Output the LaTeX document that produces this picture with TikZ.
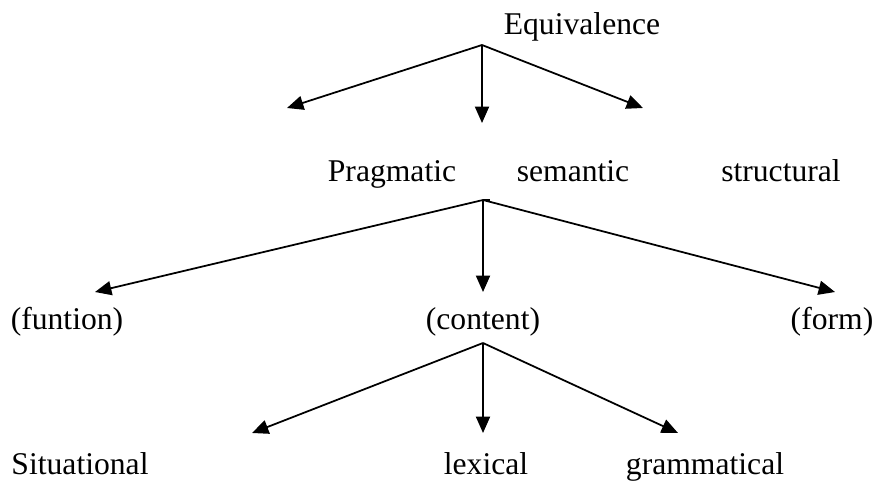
\documentclass[tikz,border=0pt]{standalone}
\usepackage{fontspec}
\setmainfont{Liberation Serif}
\usetikzlibrary{arrows.meta}

\begin{document}
\begin{tikzpicture}[x=0.03cm, y=-0.03cm, >={Triangle[length=14pt,width=12pt]}, line width=1.5pt,
  word/.style={font=\fontsize{27}{32}\selectfont, inner sep=0pt, anchor=base}]
	  \useasboundingbox (0,0) rectangle (876,483);
	  % labels
	  \node[word] (equiv) at (582,35) {Equivalence};
	  \node[word] (prag) at (392,182) {Pragmatic};
	  \node[word] (sem) at (573,182) {semantic};
	  \node[word] (struct) at (781,182) {structural};
	  \node[word] (func) at (67,329) {(funtion)};
	  \node[word] (cont) at (483,329) {(content)};
	  \node[word] (form) at (832,329) {(form)};
	  \node[word] (situ) at (80,474) {Situational};
	  \node[word] (lex) at (486,474) {lexical};
	  \node[word] (gram) at (705,474) {grammatical};
	  % fork points and arrow ends
	  \coordinate (fa) at (482,45); \coordinate (fb) at (483,200); \coordinate (fc) at (483,343);
	  \coordinate (a1) at (287,108); \coordinate (a2) at (482,123); \coordinate (a3) at (643,108);
	  \coordinate (b1) at (95,292); \coordinate (b2) at (483,292); \coordinate (b3) at (835,292);
	  \coordinate (c1) at (252,433); \coordinate (c2) at (483,433); \coordinate (c3) at (678,433);
	  \draw[->] (fa)--(a1); \draw[->] (fa)--(a2); \draw[->] (fa)--(a3);
	  \draw[->] (fb)--(b1); \draw[->] (fb)--(b2); \draw[->] (fb)--(b3);
	  \draw (fb) -- ++(7,0);
	  \draw[->] (fc)--(c1); \draw[->] (fc)--(c2); \draw[->] (fc)--(c3);
	\end{tikzpicture}
\end{document}
